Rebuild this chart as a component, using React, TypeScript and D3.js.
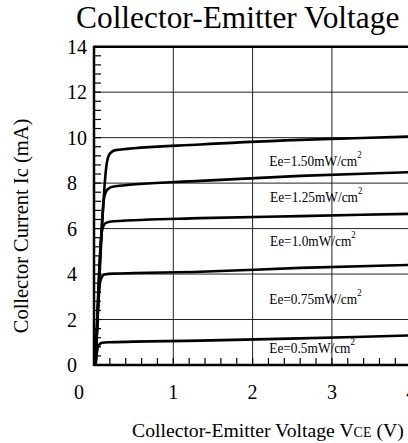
import React from 'react';
import * as d3 from 'd3';

// Ee levels and their Ic(Vce) curves
const levels = ['1.50', '1.25', '1.0', '0.75', '0.5'];

const curve150: [number, number][] = [[0.02, 0], [0.16, 8.85], [0.2, 9.3], [0.27, 9.45], [1.34, 9.7], [2.6, 9.9], [4, 10.05], [5, 10.18]];
const curve125: [number, number][] = [[0.02, 0], [0.13, 7.4], [0.17, 7.72], [0.25, 7.85], [1.34, 8.1], [2.6, 8.32], [4, 8.48], [5, 8.6]];
const curve100: [number, number][] = [[0.02, 0], [0.1, 5.9], [0.15, 6.25], [0.25, 6.32], [1.34, 6.46], [2.6, 6.55], [4, 6.65], [5, 6.72]];
const curve075: [number, number][] = [[0.02, 0], [0.08, 3.7], [0.13, 3.98], [0.25, 4.02], [1.34, 4.1], [2.6, 4.27], [4, 4.4], [5, 4.48]];
const curve050: [number, number][] = [[0.02, 0], [0.05, 0.8], [0.1, 0.98], [0.2, 1.0], [1.34, 1.07], [2.6, 1.17], [4, 1.3], [5, 1.38]];
const curves = [curve150, curve125, curve100, curve075, curve050];

// where each label sits (Vce, Ic of baseline)
const labelX = [2.21, 2.22, 2.22, 2.21, 2.21];
const labelY = [8.74, 7.16, 5.23, 2.68, 0.51];

const xTicks = [0, 1, 2, 3, 4, 5];
const yTicks = [0, 2, 4, 6, 8, 10, 12, 14];
const xGrid = [1, 2, 3, 4];
const yGrid = [2, 4, 6, 8, 10, 12];

const FONT = "'Liberation Serif', 'DejaVu Serif', serif";

export default function App() {
  const left = 94;
  const top = 46.7;
  const bottom = 365;
  const x = d3.scaleLinear().domain([0, 5]).range([left, left + 5 * 79.3]);
  const y = d3.scaleLinear().domain([0, 14]).range([bottom, top]);

  const line = d3.line<[number, number]>()
    .x(d => x(d[0]))
    .y(d => y(d[1]))
    .curve(d3.curveMonotoneX);

  const xMinor = d3.range(0, 5.001, 0.2);
  const yMinor = d3.range(0, 14.001, 0.4);
  const ts = { fontFamily: FONT };

  return (
    <svg width={408} height={443} style={{ position: 'absolute', left: 0, top: 0, background: '#fff', fontFamily: FONT }}>
      {/* title */}
      <text x={76} y={28} fontSize={31.4} style={ts}>Collector-Emitter Voltage</text>

      {/* grid */}
      {xGrid.map(v => (
        <line key={'gx' + v} x1={x(v)} x2={x(v)} y1={top} y2={bottom} stroke="#222" strokeWidth={1} />
      ))}
      {yGrid.map(v => (
        <line key={'gy' + v} x1={left} x2={x(5)} y1={y(v)} y2={y(v)} stroke="#222" strokeWidth={1} />
      ))}

      {/* minor ticks */}
      {xMinor.map((v, i) => (
        <line key={'tx' + i} x1={x(v)} x2={x(v)} y1={bottom} y2={bottom - 7} stroke="#000" strokeWidth={1.2} />
      ))}
      {yMinor.map((v, i) => (
        <line key={'ty' + i} x1={left} x2={left + 7} y1={y(v)} y2={y(v)} stroke="#000" strokeWidth={1.2} />
      ))}

      {/* frame */}
      <line x1={left} x2={left} y1={top - 1} y2={bottom + 1} stroke="#000" strokeWidth={2.5} />
      <line x1={left} x2={x(5)} y1={top} y2={top} stroke="#000" strokeWidth={2.5} />
      <line x1={left} x2={x(5)} y1={bottom} y2={bottom} stroke="#000" strokeWidth={2.5} />

      {/* curves */}
      {curves.map((c, i) => (
        <path key={'c' + i} d={line(c) || ''} fill="none" stroke="#000" strokeWidth={2.6} strokeLinejoin="round" />
      ))}

      {/* curve labels */}
      {levels.map((lv, i) => (
        <text key={'l' + i} transform={`translate(${x(labelX[i])},${y(labelY[i])}) scale(0.89,1)`} fontSize={15} style={ts}>
          Ee={lv}mW/cm<tspan fontSize={10} dy={-8}>2</tspan>
        </text>
      ))}

      {/* axis tick labels */}
      {xTicks.map(v => (
        <text key={'xl' + v} x={v === 0 ? x(v) - 15 : x(v)} y={399} fontSize={20} textAnchor="middle" style={ts}>{v}</text>
      ))}
      {yTicks.map(v => (
        <text key={'yl' + v} x={67} y={y(v) + 7} fontSize={20} style={ts}>{v}</text>
      ))}

      {/* axis titles */}
      <text transform="translate(28,226) rotate(-90)" fontSize={20.5} textAnchor="middle" style={ts}>Collector Current Ic (mA)</text>
      <text x={132} y={437} fontSize={19.7} style={ts}>
        Collector-Emitter Voltage V<tspan fontSize={14}>CE</tspan> (V)
      </text>
    </svg>
  );
}
